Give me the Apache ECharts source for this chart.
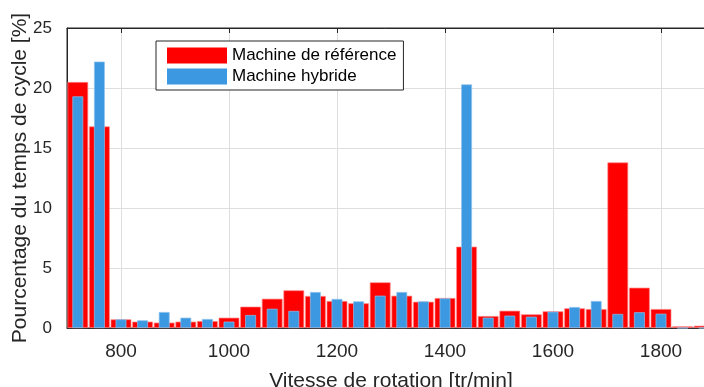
<!DOCTYPE html>
<html>
<head>
<meta charset="utf-8">
<script src="https://cdn.jsdelivr.net/npm/echarts@6/dist/echarts.min.js"></script>
<style>
html,body{margin:0;padding:0;background:#fff;}
#chart{width:704px;height:387px;}
</style>
</head>
<body>
<div id="chart"></div>
<script>
// Data
const speeds = [720, 760, 800, 840, 880, 920, 960, 1000, 1040, 1080, 1120, 1160, 1200, 1240, 1280,
                1320, 1360, 1400, 1440, 1480, 1520, 1560, 1600, 1640, 1680, 1720, 1760, 1800, 1840, 1880];
const machineReference = [20.5, 16.8, 0.72, 0.53, 0.45, 0.53, 0.58, 0.86, 1.78, 2.44, 3.14, 2.67, 2.25, 2.06, 3.81,
                          2.69, 2.19, 2.5, 6.78, 1.0, 1.44, 1.14, 1.39, 1.64, 1.58, 13.8, 3.36, 1.58, 0.14, 0.19];
const machineHybride = [19.3, 22.2, 0.72, 0.64, 1.33, 0.86, 0.75, 0.53, 1.08, 1.6, 1.42, 3.0, 2.42, 2.22, 2.69,
                        3.0, 2.22, 2.47, 20.3, 0.86, 1.03, 0.94, 1.36, 1.75, 2.25, 1.17, 1.31, 1.19, 0, 0];
const seriesNames = ['Machine de référence', 'Machine hybride'];
const xName = 'Vitesse de rotation [tr/min]';
const yName = 'Pourcentage du temps de cycle [%]';

const FONT = '"Liberation Sans", Arial, Helvetica, sans-serif';
const TXT = '#262626';
const xMin = 700, xMax = 1900;
const gridLeft = 67, gridTop = 28, gridWidth = 648, gridHeight = 300;
const pxPerUnit = gridWidth / (xMax - xMin);
const binStep = 40;

const chart = echarts.init(document.getElementById('chart'), null, {renderer: 'canvas'});

const redData = speeds.map((s, i) => [s, machineReference[i]]);
const blueData = speeds.map((s, i) => [s, machineHybride[i]]);

chart.setOption({
  animation: false,
  backgroundColor: '#fff',
  textStyle: {fontFamily: FONT},
  grid: {left: gridLeft, top: gridTop, width: gridWidth, height: gridHeight,
         outerBoundsMode: 'none', containLabel: false,
         show: true, borderColor: TXT, borderWidth: 1, backgroundColor: 'transparent'},
  legend: {
    orient: 'vertical', left: 156, top: 41,
    padding: [6, 7, 5, 11], itemGap: 4,
    itemWidth: 60, itemHeight: 16, itemStyle: {borderWidth: 0},
    backgroundColor: '#fff', borderColor: TXT, borderWidth: 1, borderRadius: 0,
    textStyle: {fontFamily: FONT, fontSize: 17, color: '#000', padding: [0, 0, 0, 0]},
    icon: 'rect',
    data: seriesNames
  },
  xAxis: [{
    type: 'value', min: xMin, max: xMax, position: 'bottom',
    name: xName, nameLocation: 'middle', nameGap: 43, nameMoveOverlap: false,
    nameTextStyle: {fontFamily: FONT, fontSize: 21, color: TXT},
    axisLine: {show: true, lineStyle: {color: TXT, width: 1}},
    axisTick: {show: true, inside: true, length: 5, lineStyle: {color: TXT}},
    axisLabel: {fontFamily: FONT, fontSize: 19, color: TXT, margin: 14, showMinLabel: false, showMaxLabel: false,
                formatter: v => String(v)},
    splitLine: {show: true, lineStyle: {color: '#dedede', width: 1}}
  }, {
    type: 'value', min: xMin, max: xMax, position: 'top',
    axisLine: {show: true, lineStyle: {color: TXT, width: 1}},
    axisTick: {show: true, inside: true, length: 5, lineStyle: {color: TXT}},
    axisLabel: {show: false},
    splitLine: {show: false}
  }],
  yAxis: {
    type: 'value', min: 0, max: 25, interval: 5,
    name: yName, nameLocation: 'middle', nameGap: 36, nameMoveOverlap: false,
    nameTextStyle: {fontFamily: FONT, fontSize: 21, color: TXT},
    axisLine: {show: true, lineStyle: {color: TXT, width: 1}},
    axisTick: {show: true, inside: true, length: 5, lineStyle: {color: TXT}},
    axisLabel: {fontFamily: FONT, fontSize: 17, color: TXT, margin: 15, formatter: v => String(v)},
    splitLine: {show: true, lineStyle: {color: '#dedede', width: 1}}
  },
  series: [{
    name: seriesNames[0], type: 'bar', xAxisIndex: 0,
    barWidth: binStep * 0.96 * pxPerUnit,
    itemStyle: {color: '#ff0000', borderColor: '#ff8a8a', borderWidth: 0.7},
    data: redData, z: 2
  }, {
    name: seriesNames[1], type: 'bar', xAxisIndex: 1,
    barWidth: binStep * 0.5 * pxPerUnit,
    itemStyle: {color: '#3c98e0', borderColor: '#8cc2ee', borderWidth: 0.7},
    data: blueData, z: 3
  }]
});
</script>
</body>
</html>
